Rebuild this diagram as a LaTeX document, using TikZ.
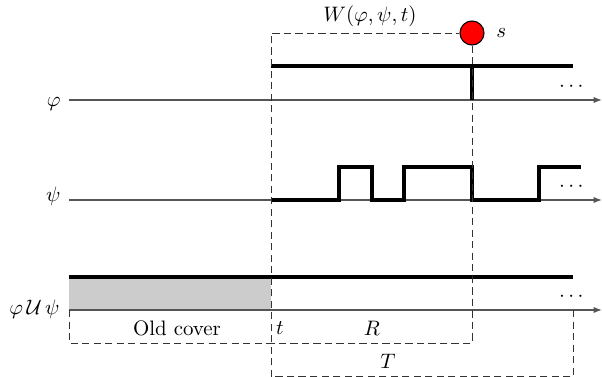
\documentclass[tikz,border=0pt]{standalone}
\usepackage{amsmath}
\usepackage{amssymb}
\usepackage{tikz}
\usetikzlibrary{arrows.meta, positioning, calc}
\definecolor{axisgray}{HTML}{555555}
\definecolor{covergray}{HTML}{CCCCCC}
\definecolor{guidegray}{HTML}{333333}
\definecolor{eventred}{HTML}{FF0000}

\begin{document}
\begin{tikzpicture}[
    x=0.0168cm, y=-0.0168cm,
    axis/.style={draw=axisgray, line width=0.6pt, -{Latex[length=4pt, width=3pt]}},
    signal/.style={draw=black, line width=1.5pt},
    guide/.style={draw=guidegray, dash pattern=on 3.5pt off 2pt, line width=0.45pt},
    rowlabel/.style={anchor=base east, inner sep=0pt},
    tag/.style={inner sep=0pt},
    event/.style={circle, draw=black, fill=eventred, line width=0.5pt, inner sep=0pt, minimum size=11.5pt}
]
\useasboundingbox (0,0) rectangle (602,377);

% Axes
\coordinate (phi0) at (69,100);
\coordinate (phi1) at (602,100);
\coordinate (psi0) at (69,200);
\coordinate (psi1) at (602,200);
\coordinate (until0) at (69,310);
\coordinate (until1) at (602,310);

\node[rowlabel] (lphi) at (61,107) {$\varphi$};
\node[rowlabel] (lpsi) at (61,202) {$\psi$};
\node[rowlabel] (luntil) at (60,315) {$\varphi\,\mathcal{U}\,\psi$};

% Old cover (shaded)
\fill[covergray] (69,277) rectangle (271,310);

\draw[axis] (phi0) -- (phi1);
\draw[axis] (psi0) -- (psi1);
\draw[axis] (until0) -- (until1);

\node[tag] (dphi) at (573,87) {$\cdots$};
\node[tag] (dpsi) at (573,187) {$\cdots$};
\node[tag] (duntil) at (573,297) {$\cdots$};

% Window W and event s
\node[event] (s) at (472,33) {};
\node[tag, right=5.5pt of s] (ls) {$s$};
\coordinate (wtop) at (271,33);
\coordinate (wbot) at (271,377);
\node[tag] (lw) at (370,16) {$W(\varphi,\psi,t)$};

% Signals
\draw[signal] (271,66) -- (573,66);
\draw[signal] (472,66) -- (472,100);
\draw[signal] (271,200) -- (339,200) -- (339,167) -- (372,167) -- (372,200)
  -- (404,200) -- (404,167) -- (472,167) -- (472,200) -- (539,200)
  -- (539,167) -- (581,167);
\draw[signal] (69,277) -- (573,277);

% Dashed guides
\coordinate (rcorner) at (472,343);
\coordinate (tcorner) at (573,376.5);
\draw[guide] (wbot) -- (wtop) -- (s.west);
\draw[guide] (s.south) -- (rcorner) -- (271,343);
\draw[guide] (until0) -- (69,343) -- (271,343);
\draw[guide] (573,310) -- (tcorner) -- (271,376.5);

% Spans
\node[tag] (lold) at (177,328) {Old cover};
\node[tag] (lt) at (280,328) {$t$};
\node[tag] (lr) at (372,328) {$R$};
\node[tag] (lT) at (388,361) {$T$};

\end{tikzpicture}
\end{document}
